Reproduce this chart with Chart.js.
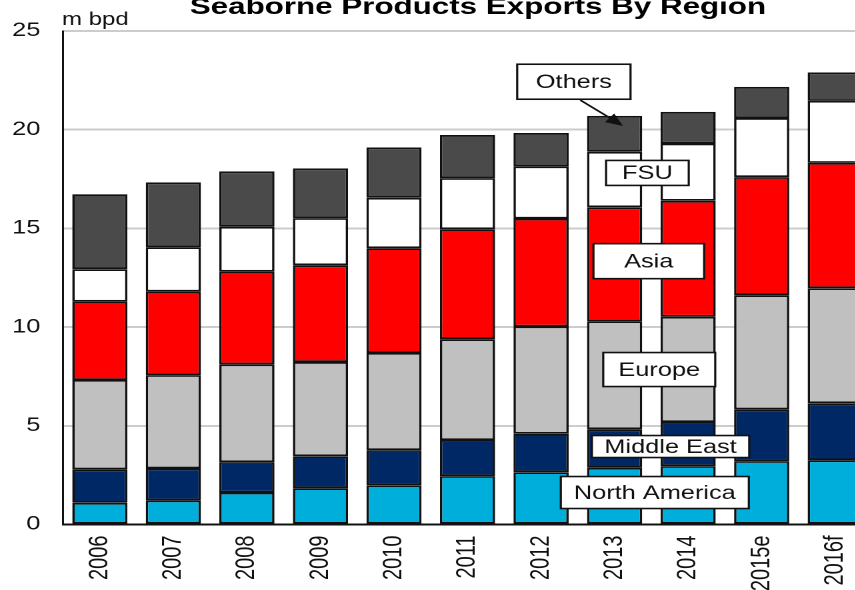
<!DOCTYPE html>
<html>
<head>
<meta charset="utf-8">
<script src="https://cdn.jsdelivr.net/npm/chart.js@4.4.1/dist/chart.umd.min.js"></script>
<style>
  html, body { margin: 0; padding: 0; background: #fff; overflow: hidden; width: 855px; height: 590px; }
  /* the source picture is stretched sideways, so the chart is drawn narrow and stretched */
  #wrap { position: absolute; left: 0; top: 0; width: 660px; height: 590px; transform: scaleX(1.3333); transform-origin: 0 0; }
</style>
</head>
<body>
<div id="wrap"><canvas id="chart"></canvas></div>
<script>
// ===================== data (m bpd) =====================
var years = ['2006', '2007', '2008', '2009', '2010', '2011', '2012', '2013', '2014', '2015e', '2016f'];
var northAmerica = [1.10, 1.22, 1.62, 1.84, 1.99, 2.45, 2.65, 2.87, 2.96, 3.21, 3.25];
var middleEast   = [1.69, 1.62, 1.54, 1.62, 1.78, 1.83, 1.95, 1.95, 2.23, 2.62, 2.89];
var europe       = [4.53, 4.73, 4.95, 4.77, 4.92, 5.10, 5.43, 5.47, 5.34, 5.78, 5.83];
var asia         = [3.97, 4.23, 4.70, 4.90, 5.31, 5.58, 5.47, 5.78, 5.87, 5.99, 6.35];
var fsu          = [1.64, 2.25, 2.27, 2.39, 2.55, 2.59, 2.64, 2.81, 2.90, 2.99, 3.14];
var others       = [3.80, 3.28, 2.81, 2.52, 2.55, 2.18, 1.69, 1.82, 1.60, 1.58, 1.44];
var yTicks = [0, 5, 10, 15, 20, 25];

var FONT = '"Liberation Sans", Arial, sans-serif';
Chart.defaults.font.family = FONT;
Chart.defaults.color = '#111';

// label boxes, placed in data units (category index, value)
var regionLabels = [
    { text: 'Others',        idx: 6.446, val: 22.43, w: 85,  h: 35 },
    { text: 'FSU',           idx: 7.446, val: 17.81, w: 62,  h: 25 },
    { text: 'Asia',          idx: 7.465, val: 13.34, w: 83,  h: 35 },
    { text: 'Europe',        idx: 7.607, val: 7.85,  w: 84,  h: 34 },
    { text: 'Middle East',   idx: 7.761, val: 3.95,  w: 118, h: 22 },
    { text: 'North America', idx: 7.547, val: 1.62,  w: 141, h: 32 }
];

var labelsPlugin = {
    id: 'regionLabels',
    afterDatasetsDraw: function(chart) {
        var ctx = chart.ctx;
        var xs = chart.scales.x, ys = chart.scales.y;
        ctx.save();

        // arrow from the Others box to the 2013 bar
        var x0 = xs.getPixelForValue(6.534), y0 = ys.getPixelForValue(21.5);
        var x1 = xs.getPixelForValue(7.115), y1 = ys.getPixelForValue(20.19);
        var ang = Math.atan2(y1 - y0, x1 - x0);
        ctx.strokeStyle = '#111';
        ctx.fillStyle = '#111';
        ctx.lineWidth = 1.6;
        ctx.beginPath();
        ctx.moveTo(x0, y0);
        ctx.lineTo(x1 - 10 * Math.cos(ang), y1 - 10 * Math.sin(ang));
        ctx.stroke();
        ctx.beginPath();
        ctx.moveTo(x1, y1);
        ctx.lineTo(x1 - 13 * Math.cos(ang) + 5.5 * Math.sin(ang), y1 - 13 * Math.sin(ang) - 5.5 * Math.cos(ang));
        ctx.lineTo(x1 - 13 * Math.cos(ang) - 5.5 * Math.sin(ang), y1 - 13 * Math.sin(ang) + 5.5 * Math.cos(ang));
        ctx.closePath();
        ctx.fill();

        ctx.font = '19px ' + FONT;
        ctx.textAlign = 'center';
        ctx.textBaseline = 'middle';
        regionLabels.forEach(function(l) {
            var cx = xs.getPixelForValue(l.idx);
            var cy = ys.getPixelForValue(l.val);
            ctx.fillStyle = '#fff';
            ctx.fillRect(cx - l.w / 2, cy - l.h / 2, l.w, l.h);
            ctx.lineWidth = 1.6;
            ctx.strokeStyle = '#111';
            ctx.strokeRect(cx - l.w / 2, cy - l.h / 2, l.w, l.h);
            ctx.fillStyle = '#111';
            ctx.fillText(l.text, cx, cy + 1);
        });
        ctx.restore();
    },
    afterDraw: function(chart) {
        var ctx = chart.ctx;
        ctx.save();
        ctx.fillStyle = '#000';
        ctx.font = 'bold 23.5px ' + FONT;
        ctx.textAlign = 'center';
        ctx.textBaseline = 'alphabetic';
        ctx.fillText('Seaborne Products Exports By Region', 358.5, 14);
        ctx.fillStyle = '#111';
        ctx.font = '18px ' + FONT;
        ctx.textAlign = 'left';
        ctx.fillText('m bpd', 46.5, 25);
        ctx.restore();
    }
};

function series(label, data, color) {
    return {
        label: label,
        data: data,
        backgroundColor: color,
        borderColor: '#111',
        borderWidth: 1.8,
        borderSkipped: false,
        barPercentage: 0.75,
        categoryPercentage: 1.0
    };
}

var chrt = document.getElementById('chart').getContext('2d');
var stackedExports = new Chart(chrt, {
    type: 'bar',
    data: {
        labels: years,
        datasets: [
            series('North America', northAmerica, '#00AEDB'),
            series('Middle East', middleEast, '#002865'),
            series('Europe', europe, '#C0C0C0'),
            series('Asia', asia, '#FF0000'),
            series('FSU', fsu, '#FFFFFF'),
            series('Others', others, '#4A4A4A')
        ]
    },
    options: {
        responsive: true,
        maintainAspectRatio: false,
        animation: false,
        devicePixelRatio: 2,
        layout: { padding: { top: 31, right: 6, left: 0, bottom: 0 } },
        plugins: {
            legend: { display: false },
            tooltip: { enabled: false },
            title: { display: false }
        },
        scales: {
            x: {
                stacked: true,
                grid: { display: false },
                border: { display: true, color: '#111', width: 2 },
                ticks: { minRotation: 90, maxRotation: 90, padding: 3, color: '#111', font: { size: 20 } },
                afterFit: function(s) { s.height = 65.5; }
            },
            y: {
                stacked: true,
                min: 0,
                max: 25,
                afterBuildTicks: function(s) { s.ticks = yTicks.map(function(v) { return { value: v }; }); },
                grid: { color: '#CCCCCC', lineWidth: 2, drawTicks: false },
                border: { display: true, color: '#111', width: 1.5 },
                ticks: { padding: 17, color: '#111', font: { size: 19 } },
                afterFit: function(s) { s.width = 47.3; }
            }
        }
    },
    plugins: [labelsPlugin]
});
</script>
</body>
</html>
